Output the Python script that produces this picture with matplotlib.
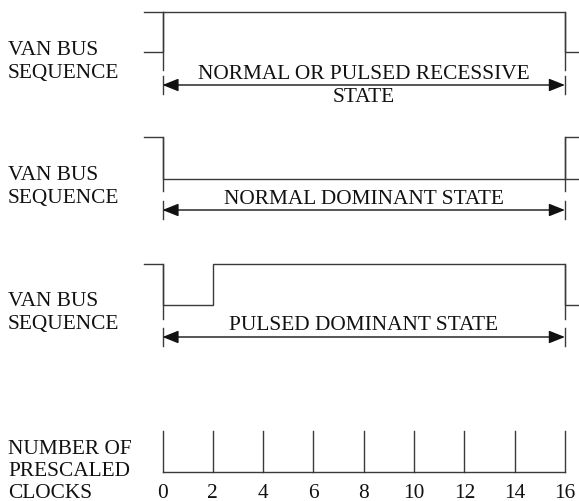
import matplotlib
matplotlib.use("Agg")
import matplotlib.pyplot as plt

# ---- data ----
clock_ticks = [0, 2, 4, 6, 8, 10, 12, 14, 16]
clock_labels = ["0", "2", "4", "6", "8", "10", "12", "14", "16"]
row_labels = [["VAN BUS", "SEQUENCE"], ["VAN BUS", "SEQUENCE"], ["VAN BUS", "SEQUENCE"],
              ["NUMBER OF", "PRESCALED", "CLOCKS"]]
state_labels = [["NORMAL OR PULSED RECESSIVE", "STATE"], ["NORMAL DOMINANT STATE"],
                ["PULSED DOMINANT STATE"]]
# waveforms: (times, level) with level 1 = high, 0 = low
wave1_t = [-0.75, 0, 0, 16, 16, 16.6]
wave1_v = [0, 0, 1, 1, 0, 0]
wave1_extra_t = [-0.75, 0]          # upper line left of start
wave1_extra_v = [1, 1]
wave2_t = [-0.75, 0, 0, 16.6]
wave2_v = [1, 1, 0, 0]
wave2_end_t = [16, 16, 16.6]
wave2_end_v = [0, 1, 1]
wave3_t = [-0.75, 0, 0, 2, 2, 16, 16, 16.6]
wave3_v = [1, 1, 0, 0, 1, 1, 0, 0]

# ---- layout (pixel rows) ----
W, H, DPI = 579, 502, 100
x0_px, unit_px = 162.5, 25.15
fig = plt.figure(figsize=(W / DPI, H / DPI), dpi=DPI)
ax = fig.add_axes([0, 0, 1, 1])
ax.set_xlim(-x0_px / unit_px, (W - x0_px) / unit_px)
ax.set_ylim(H, 0)
ax.axis("off")

col = "#3a3a3a"
lw = 1.0
font = dict(family="Liberation Serif", fontsize=15.4, color="#111111")
xl = -x0_px / unit_px + 8 / unit_px

rows = [  # high_y, low_y, marker_bottom, arrow_y, text baselines, label baselines
    dict(hi=13, lo=53, vend=71, arrow=86, text=[79, 102], lab=[55, 78]),
    dict(hi=138, lo=180, vend=192, arrow=211, text=[204], lab=[180, 203]),
    dict(hi=265, lo=306, vend=320, arrow=338, text=[330], lab=[306, 329]),
]
waves = [(wave1_t, wave1_v), (wave2_t, wave2_v), (wave3_t, wave3_v)]

def lvl(r, v):
    return r["lo"] + (r["hi"] - r["lo"]) * v

for i, (r, (t, v)) in enumerate(zip(rows, waves)):
    ax.plot(t, [lvl(r, vv) for vv in v], color=col, lw=lw, solid_joinstyle="miter")
    if i == 0:
        ax.plot(wave1_extra_t, [lvl(r, vv) for vv in wave1_extra_v], color=col, lw=lw)
    if i == 1:
        ax.plot(wave2_end_t, [lvl(r, vv) for vv in wave2_end_v], color=col, lw=lw)
    for tx in (0, 16):
        ax.plot([tx, tx], [r["hi"], r["vend"]], color=col, lw=lw)
        ax.plot([tx, tx], [r["arrow"] - 9, r["arrow"] + 9], color=col, lw=lw)
    ax.annotate("", xy=(16, r["arrow"]), xytext=(0, r["arrow"]),
                arrowprops=dict(arrowstyle="<|-|>,head_length=0.75,head_width=0.3",
                                color="#111111", lw=lw, shrinkA=0, shrinkB=0,
                                mutation_scale=13))
    for s, y in zip(state_labels[i], r["text"]):
        ax.text(8, y, s, ha="center", va="baseline", **font)
    for s, y in zip(row_labels[i], r["lab"]):
        ax.text(xl, y, s, ha="left", va="baseline", **font)

for s, y in zip(row_labels[3], [454, 476.5, 498.5]):
    ax.text(xl, y, s, ha="left", va="baseline", **font)

# clock
base_y, top_y = 473, 432
ax.plot([clock_ticks[0], clock_ticks[-1]], [base_y, base_y], color=col, lw=lw)
for t, lab in zip(clock_ticks, clock_labels):
    ax.plot([t, t], [top_y, base_y], color=col, lw=lw)
    ax.text(t, 498.5, lab, ha="center", va="baseline", **font)

fig.savefig("out.png", dpi=DPI)
